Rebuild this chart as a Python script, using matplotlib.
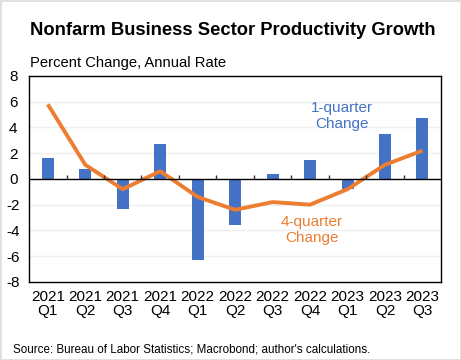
import numpy as np
import matplotlib.pyplot as plt

plt.rcParams['font.family'] = ['Liberation Sans', 'DejaVu Sans']
plt.rcParams['axes.unicode_minus'] = False

quarters = ['2021\nQ1', '2021\nQ2', '2021\nQ3', '2021\nQ4', '2022\nQ1', '2022\nQ2',
            '2022\nQ3', '2022\nQ4', '2023\nQ1', '2023\nQ2', '2023\nQ3']
one_quarter = [1.6, 0.8, -2.3, 2.7, -6.3, -3.6, 0.4, 1.5, -0.8, 3.5, 4.7]
four_quarter = [5.8, 1.1, -0.8, 0.6, -1.4, -2.4, -1.8, -2.0, -0.8, 1.1, 2.2]

blue = '#4472C4'
orange = '#ED7D31'

fig = plt.figure(figsize=(4.61, 3.6), dpi=100)
ax = fig.add_axes([0.063, 0.217, 0.894, 0.572])

x = np.arange(len(quarters))
ax.bar(x, one_quarter, width=0.32, color=blue, zorder=2)
ax.plot(x, four_quarter, color=orange, lw=2.8, zorder=3, solid_capstyle='butt')
ax.axhline(0, color='black', lw=1, zorder=4)
ax.vlines(x[:-1] + 0.5, 0, 0.3, color='#333333', lw=1, zorder=4)

ax.set_xlim(-0.5, len(quarters) - 0.5)
ax.set_ylim(-8, 8)
ax.set_yticks(np.arange(-8, 9, 2))
ax.set_xticks(x)
ax.set_xticklabels(quarters, linespacing=1.0, multialignment='center')
ax.tick_params(length=0, labelsize=11, colors='black')
ax.tick_params(axis='x', pad=6)
ax.tick_params(axis='y', pad=4)
for lbl in ax.get_yticklabels():
    lbl.set_horizontalalignment('center')
    lbl.set_x(-0.025)
for v in [-6, -4, -2, 2, 4, 6]:
    ax.axhline(v, color='#efefef', lw=1, zorder=1)
for s in ax.spines.values():
    s.set_color('black')
    s.set_linewidth(1)

ax.text(7.85, 4.9, '1-quarter\nChange', color=blue, ha='center', va='center',
        fontsize=11, linespacing=1.2)
ax.text(7.05, -3.95, '4-quarter\nChange', color=orange, ha='center', va='center',
        fontsize=11, linespacing=1.2)

fig.text(0.065, 0.915, 'Nonfarm Business Sector Productivity Growth',
         fontsize=13.2, fontweight='bold', va='center')
fig.text(0.065, 0.825, 'Percent Change, Annual Rate', fontsize=10.6, va='center')
fig.text(0.028, 0.03, "Source: Bureau of Labor Statistics; Macrobond; author's calculations.",
         fontsize=8.4, va='center')

fig.patch.set_edgecolor('#e0e0e0')
fig.patch.set_linewidth(1)
fig.savefig('out.png', dpi=100, edgecolor=fig.get_edgecolor())
